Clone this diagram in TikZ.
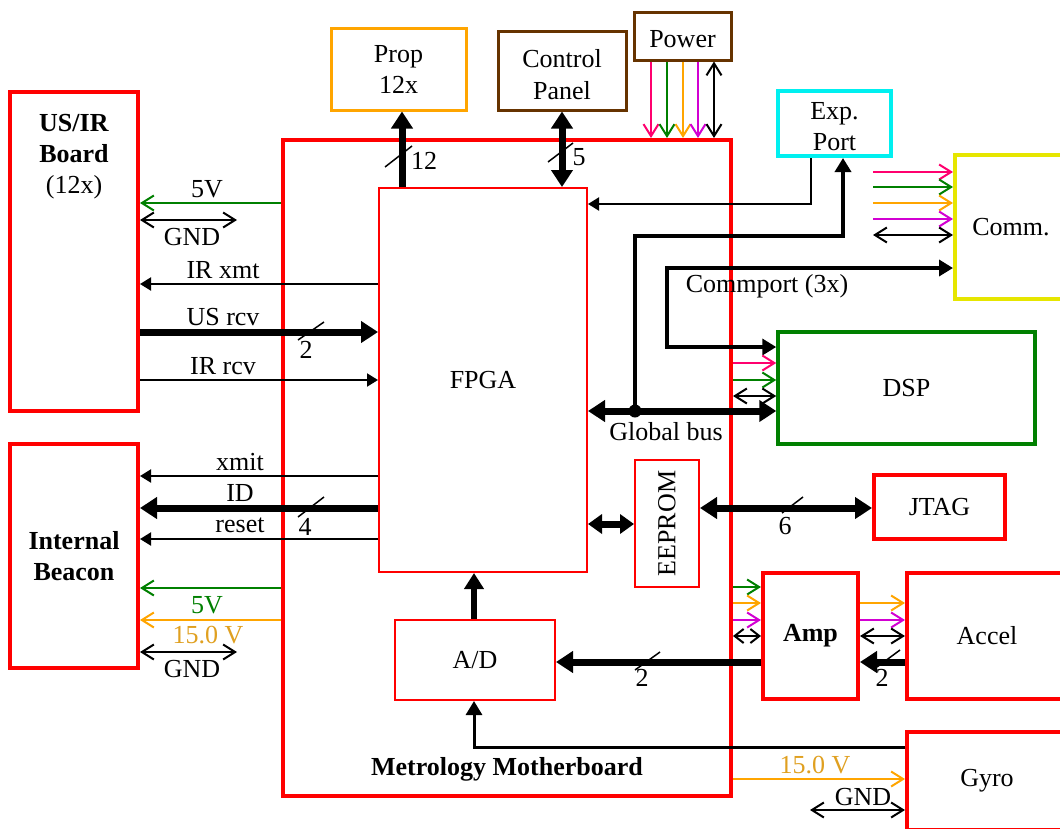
\documentclass[tikz,border=0pt]{standalone}
\usepackage{fontspec}
\setmainfont{Liberation Serif}
\usetikzlibrary{arrows.meta}
\definecolor{myred}{RGB}{255,0,0}
\definecolor{myorange}{RGB}{255,165,0}
\definecolor{mybrown}{RGB}{102,51,0}
\definecolor{mycyan}{RGB}{0,240,240}
\definecolor{myyellow}{RGB}{230,230,0}
\definecolor{mygreen}{RGB}{0,128,0}
\definecolor{mypink}{RGB}{255,0,110}
\definecolor{mymagenta}{RGB}{210,0,210}
\definecolor{goldtext}{RGB}{224,160,32}
\begin{document}
\begin{tikzpicture}[x=1pt,y=-1pt,font=\fontsize{26}{31}\selectfont,
  box/.style={draw, inner sep=0pt, align=center},
  rbox/.style={box, draw=myred, line width=4pt},
  tbox/.style={box, draw=myred, line width=2pt},
  thinarr/.style={line width=2pt, -{Triangle[length=11pt,width=13pt]}},
  thickarr/.style={line width=7pt, -{Triangle[length=17pt,width=21pt]}},
  thickdbl/.style={line width=7pt, {Triangle[length=17pt,width=21pt]}-{Triangle[length=17pt,width=21pt]}},
  shortdbl/.style={line width=7pt, {Triangle[length=14pt,width=19pt]}-{Triangle[length=14pt,width=19pt]}},
  medarr/.style={line width=4.5pt, -{Triangle[length=14pt,width=16pt]}},
  meddbl/.style={line width=4.5pt, {Triangle[length=14pt,width=16pt]}-{Triangle[length=14pt,width=16pt]}},
  gyroarr/.style={line width=3pt, -{Triangle[length=14pt,width=16pt]}},
  opn/.style={line width=2pt, -{Straight Barb[length=12pt,width=15pt]}},
  opndbl/.style={line width=2pt, {Straight Barb[length=12pt,width=15pt]}-{Straight Barb[length=12pt,width=15pt]}},
  shortopndbl/.style={line width=2pt, {Straight Barb[length=9pt,width=14pt]}-{Straight Barb[length=9pt,width=14pt]}},
  slash/.style={line width=1.5pt}]
\useasboundingbox (0,0) rectangle (1060,828);
\fill[white] (0,0) rectangle (1060,828);

% boxes
\node[rbox, minimum width=128pt, minimum height=319pt] (usir) at (74,251.5) {};
\node[align=center] (usirtxt) at (74,157) {\textbf{US/IR}\\\textbf{Board}\\(12x)};
\node[rbox, minimum width=128pt, minimum height=224pt] (beacon) at (74,556) {\textbf{Internal}\\\textbf{Beacon}};
\node[rbox, minimum width=448pt, minimum height=656pt] (mb) at (507,468) {};
\node (mbtxt) at (507,769) {\textbf{Metrology Motherboard}};
\node[tbox, minimum width=208pt, minimum height=384pt] (fpga) at (483,380) {FPGA};
\node[box, draw=myorange, line width=3pt, minimum width=135pt, minimum height=82pt] (prop) at (398.5,69) {Prop\\12x};
\node[box, draw=mybrown, line width=3pt, minimum width=128pt, minimum height=79pt] (ctrl) at (562,70.5) {};
\node[align=center] (ctrltxt) at (562,75) {Control\\[1pt]Panel};
\node[box, draw=mybrown, line width=3pt, minimum width=97pt, minimum height=48pt] (power) at (682.5,36) {};
\node (powertxt) at (682.5,39) {Power};
\node[box, draw=mycyan, line width=4pt, minimum width=113pt, minimum height=65pt] (exp) at (834.5,123.5) {};
\node[align=center] (exptxt) at (834.5,126.5) {Exp.\\Port};
\node[box, draw=myyellow, line width=4pt, minimum width=112pt, minimum height=144pt] (comm) at (1011,227) {Comm.};
\node[box, draw=mygreen, line width=3.5pt, minimum width=257pt, minimum height=112pt] (dsp) at (906.5,388) {DSP};
\node[rbox, minimum width=131pt, minimum height=64pt] (jtag) at (939.5,507) {JTAG};
\node[tbox, minimum width=64pt, minimum height=127pt] (eeprom) at (667,523.5) {};
\node[rotate=90] (eepromtxt) at (667,523.5) {EEPROM};
\node[rbox, minimum width=95pt, minimum height=126pt] (amp) at (810.5,636) {\textbf{Amp}};
\node[rbox, minimum width=160pt, minimum height=126pt] (accel) at (987,636) {Accel};
\node[rbox, minimum width=160pt, minimum height=98pt] (gyro) at (987,781) {Gyro};
\node[tbox, minimum width=160pt, minimum height=80pt] (ad) at (475,660) {A/D};

% US/IR connections
\draw[opn, mygreen] (mb.west |- 0,203) -- (usir.east |- 0,203);
\node at (207,189) {5V};
\draw[opndbl] (usir.east |- 0,220) -- (237,220);
\node at (192,237) {GND};
\draw[thinarr] (fpga.west |- 0,284) -- (usir.east |- 0,284);
\node at (223,270) {IR xmt};
\draw[thickarr] (usir.east |- 0,332) -- (fpga.west |- 0,332);
\node at (223,317) {US rcv};
\draw[slash] (298,340) -- (324,322);
\node at (306,350) {2};
\draw[thinarr] (usir.east |- 0,380) -- (fpga.west |- 0,380);
\node at (223,366) {IR rcv};

% Beacon connections
\draw[thinarr] (fpga.west |- 0,476) -- (beacon.east |- 0,476);
\node at (240,462) {xmit};
\draw[thickarr] (fpga.west |- 0,508) -- (beacon.east |- 0,508);
\node at (240,493) {ID};
\draw[slash] (298,517) -- (324,497);
\node at (305,527) {4};
\draw[thinarr] (fpga.west |- 0,539) -- (beacon.east |- 0,539);
\node at (240,525) {reset};
\draw[opn, mygreen] (mb.west |- 0,588) -- (beacon.east |- 0,588);
\node[text=mygreen] at (207,605) {5V};
\draw[opn, myorange] (mb.west |- 0,620) -- (beacon.east |- 0,620);
\node[text=goldtext] at (208,635) {15.0 V};
\draw[opndbl] (beacon.east |- 0,652) -- (237,652);
\node at (192,669) {GND};

% top
\draw[thickarr] (fpga.north -| 402,0) -- (prop.south -| 402,0);
\draw[slash] (385,167) -- (412,146);
\node at (424,161) {12};
\draw[thickdbl] (fpga.north -| ctrl.south) -- (ctrl.south);
\draw[slash] (548,162) -- (573,143);
\node at (579,157) {5};

% power
\draw[opn, mypink] (power.south -| 651,0) -- (mb.north -| 651,0);
\draw[opn, mygreen] (power.south -| 667,0) -- (mb.north -| 667,0);
\draw[opn, myorange] (power.south -| 683,0) -- (mb.north -| 683,0);
\draw[opn, mymagenta] (power.south -| 698,0) -- (mb.north -| 698,0);
\draw[opndbl] (power.south -| 714,0) -- (mb.north -| 714,0);

% Exp port
\draw[thinarr] (exp.south -| 811,0) |- (fpga.east |- 0,204);
\coordinate (gb) at (635,411);
\draw[medarr] (gb) -- (gb |- 0,236) -| (exp.south -| 843,0);

% Global bus
\draw[thickdbl] (fpga.east |- gb) -- (dsp.west |- gb);
\fill (gb) circle (6.5);
\node at (666,432) {Global bus};

% Commport
\draw[meddbl] (comm.west |- 0,268) -- (667,268) |- (dsp.west |- 0,347);
\node at (767,286) {Commport (3x)};

% Comm power lines
\draw[opn, mypink] (873,172) -- (comm.west |- 0,172);
\draw[opn, mygreen] (873,187) -- (comm.west |- 0,187);
\draw[opn, myorange] (873,203) -- (comm.west |- 0,203);
\draw[opn, mymagenta] (873,219) -- (comm.west |- 0,219);
\draw[opndbl] (873,235) -- (comm.west |- 0,235);

% DSP power lines
\draw[opn, mypink] (mb.east |- 0,363) -- (dsp.west |- 0,363);
\draw[opn, mygreen] (mb.east |- 0,380) -- (dsp.west |- 0,380);
\draw[opndbl] (mb.east |- 0,396) -- (dsp.west |- 0,396);

% EEPROM / JTAG
\draw[shortdbl] (fpga.east |- 0,524) -- (eeprom.west |- 0,524);
\draw[thickdbl] (eeprom.east |- 0,508) -- (jtag.west |- 0,508);
\draw[slash] (782,513) -- (803,497);
\node at (785,526) {6};

% Amp
\draw[opn, mygreen] (mb.east |- 0,587) -- (amp.west |- 0,587);
\draw[opn, myorange] (mb.east |- 0,603) -- (amp.west |- 0,603);
\draw[opn, mymagenta] (mb.east |- 0,620) -- (amp.west |- 0,620);
\draw[shortopndbl] (mb.east |- 0,636) -- (amp.west |- 0,636);
\draw[opn, myorange] (amp.east |- 0,603) -- (accel.west |- 0,603);
\draw[opn, mymagenta] (amp.east |- 0,620) -- (accel.west |- 0,620);
\draw[opndbl] (amp.east |- 0,636) -- (accel.west |- 0,636);
\draw[thickarr] (accel.west |- 0,662) -- (amp.east |- 0,662);
\draw[slash] (877,667) -- (900,650);
\node at (882,678) {2};
\draw[thickarr] (amp.west |- 0,662) -- (ad.east |- 0,662);
\draw[slash] (635,670) -- (660,652);
\node at (642,678) {2};

% A/D
\draw[line width=6pt, -{Triangle[length=16pt,width=19pt]}] (ad.north -| 474,0) -- (fpga.south -| 474,0);
\draw[gyroarr] (gyro.west |- 0,747) -| (ad.south -| 474,0);

% Gyro
\draw[opn, myorange] (mb.east |- 0,779) -- (gyro.west |- 0,779);
\node[text=goldtext] at (815,765) {15.0 V};
\draw[opndbl] (810,810) -- (gyro.west |- 0,810);
\node at (863,797) {GND};
\end{tikzpicture}
\end{document}
